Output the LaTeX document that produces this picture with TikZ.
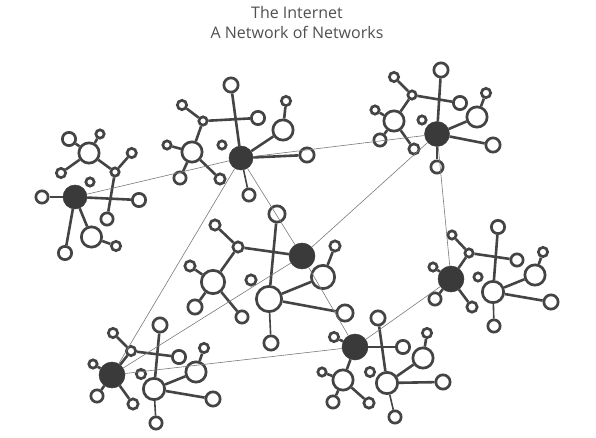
\documentclass[tikz,border=0pt]{standalone}
\usepackage{fontspec}
\setmainfont{Open Sans}
\definecolor{ringc}{HTML}{444444}
\definecolor{darkc}{HTML}{3A3A3A}
\definecolor{linkc}{HTML}{7A7A7A}
\definecolor{titlec}{HTML}{505050}
\tikzset{
  ring/.style={circle, draw=ringc, line width=2.7pt, fill=white, inner sep=0pt, minimum size=#1},
  darknode/.style={circle, draw=darkc, fill=darkc, line width=0.5pt, inner sep=0pt, minimum size=#1},
  edge/.style={draw=ringc, line width=2.6pt},
  thinedge/.style={draw=ringc, line width=1.6pt},
  link/.style={draw=linkc, line width=0.6pt},
  title/.style={text=titlec, font=\fontsize{16}{19}\selectfont, inner sep=0pt, anchor=base}
}
\newcommand\rn[4]{\node[ring={2*#4+0.3}] (#1) at (#2,#3) {};}
\newcommand\dn[4]{\node[darknode={2*#4+2}] (#1) at (#2,#3) {};}
\begin{document}
\begin{tikzpicture}[x=1pt,y=-1pt]
\useasboundingbox (0,0) rectangle (596,438);
\node[title] (t1) at (297,18.5) {The Internet};
\node[title] (t2) at (297,39) {A Network of Networks};
% cluster a (left)
\dn{a-H}{75}{197}{11}
\rn{a-T}{139}{200}{6.5}
\rn{a-Bo}{42}{197}{6}
\rn{a-A}{115}{172}{4}
\rn{a-B}{107}{219}{6}
\rn{a-C}{131.7}{153}{4.5}
\rn{a-D}{89}{153}{10}
\rn{a-E}{69}{139}{6.5}
\rn{a-F}{100}{134}{4}
\rn{a-G}{61}{173}{4.5}
\rn{a-I}{90}{182}{4}
\rn{a-J}{91.5}{237}{10}
\rn{a-K}{116}{246}{4.5}
\rn{a-L}{65}{253}{6.5}
% cluster b (top middle)
\dn{b-H}{241}{158}{11}
\rn{b-T}{231}{85}{7}
\rn{b-Bo}{249}{195}{6}
\rn{b-A}{203}{121}{4}
\rn{b-B}{258}{118}{6.5}
\rn{b-C}{182}{105}{4.5}
\rn{b-D}{192}{152}{10}
\rn{b-E}{167}{145}{4}
\rn{b-F}{180}{178}{6}
\rn{b-G}{220}{179}{5}
\rn{b-I}{222}{145}{4}
\rn{b-J}{283}{130}{10}
\rn{b-K}{286}{101}{4.5}
\rn{b-L}{307}{155}{7}
% cluster c (top right)
\dn{c-H}{437}{134}{11.5}
\rn{c-T}{441}{70}{7}
\rn{c-Bo}{437}{167}{6}
\rn{c-A}{412}{95}{4}
\rn{c-B}{460}{103}{6.5}
\rn{c-C}{394}{77}{4.5}
\rn{c-D}{394}{121}{10}
\rn{c-E}{375}{110}{4}
\rn{c-F}{380}{140}{6}
\rn{c-G}{414}{149}{5}
\rn{c-I}{422}{120}{4}
\rn{c-J}{477}{117}{10}
\rn{c-K}{486}{93}{4.5}
\rn{c-L}{493}{145}{7}
% cluster d (center)
\rn{d-H}{269}{299}{12.5}
\rn{d-T}{277}{214}{8}
\rn{d-Bo}{271}{343}{7}
\rn{d-A}{238}{247}{5}
\dn{d-B}{302}{256}{12}
\rn{d-C}{215}{225}{5}
\rn{d-D}{213}{282}{11.5}
\rn{d-E}{190}{266}{5}
\rn{d-F}{195}{307}{7}
\rn{d-G}{242}{317}{6}
\rn{d-I}{251}{280}{5}
\rn{d-J}{323}{277}{11.5}
\rn{d-K}{335}{246}{5}
\rn{d-L}{345}{313}{8}
% cluster e (right)
\rn{e-H}{493}{292}{10.5}
\rn{e-T}{498}{227}{6.5}
\rn{e-Bo}{494}{326}{6}
\rn{e-A}{469}{253}{4}
\rn{e-B}{517}{260}{6}
\rn{e-C}{452}{235}{4}
\dn{e-D}{451}{279}{12}
\rn{e-E}{433}{267}{4}
\rn{e-F}{435}{299}{6}
\rn{e-G}{472}{307}{5}
\rn{e-I}{478}{277}{4}
\rn{e-J}{535}{275}{10}
\rn{e-K}{543}{252}{4.5}
\rn{e-L}{551}{302}{7}
% cluster f (bottom left)
\rn{f-H}{154}{389}{10.5}
\rn{f-T}{160}{325}{7}
\rn{f-Bo}{156}{423}{6}
\rn{f-A}{131}{351}{4.5}
\rn{f-B}{179}{357}{6.5}
\rn{f-C}{113}{333}{4.5}
\dn{f-D}{112}{375}{12}
\rn{f-E}{93}{364}{4}
\rn{f-F}{97}{396}{6}
\rn{f-G}{133}{404}{5}
\rn{f-I}{141}{374}{4.5}
\rn{f-J}{196}{372}{10}
\rn{f-K}{204}{348}{4.5}
\rn{f-L}{213}{399}{7}
% cluster g (bottom middle)
\rn{g-H}{387}{383}{10.5}
\rn{g-T}{378}{318}{7}
\rn{g-Bo}{395}{417}{6}
\dn{g-A}{355}{347}{12}
\rn{g-B}{403}{347}{6.5}
\rn{g-C}{334}{337}{4.5}
\rn{g-D}{343}{380}{10}
\rn{g-E}{322}{372}{4}
\rn{g-F}{333}{402}{6}
\rn{g-G}{369}{403}{5}
\rn{g-I}{370}{372}{4.5}
\rn{g-J}{423}{358}{10}
\rn{g-K}{427}{333}{4.5}
\rn{g-L}{443}{382}{7}
% edges within clusters
\foreach \c in {a,b,c,d,e,f,g}{
  \draw[edge] (\c-T) -- (\c-H);
  \draw[thinedge] (\c-H) -- (\c-Bo);
  \draw[edge] (\c-A) -- (\c-B);
  \draw[edge] (\c-C) -- (\c-A);
  \draw[edge] (\c-A) -- (\c-D);
  \draw[edge] (\c-D) -- (\c-E);
  \draw[edge] (\c-D) -- (\c-F);
  \draw[edge] (\c-D) -- (\c-G);
  \draw[edge] (\c-H) -- (\c-J);
  \draw[edge] (\c-J) -- (\c-K);
  \draw[edge] (\c-H) -- (\c-L);
}
% links between clusters
\draw[link] (a-H) -- (b-H);
\draw[link] (b-H) -- (c-H);
\draw[link] (b-H) -- (d-B);
\draw[link] (b-H) -- (f-D);
\draw[link] (c-H) -- (d-B);
\draw[link] (d-B) -- (f-D);
\draw[link] (d-B) -- (g-A);
\draw[link] (f-D) -- (g-A);
\draw[link] (g-A) -- (e-D);
\draw[link] (e-D) -- (c-H);
\end{tikzpicture}
\end{document}
